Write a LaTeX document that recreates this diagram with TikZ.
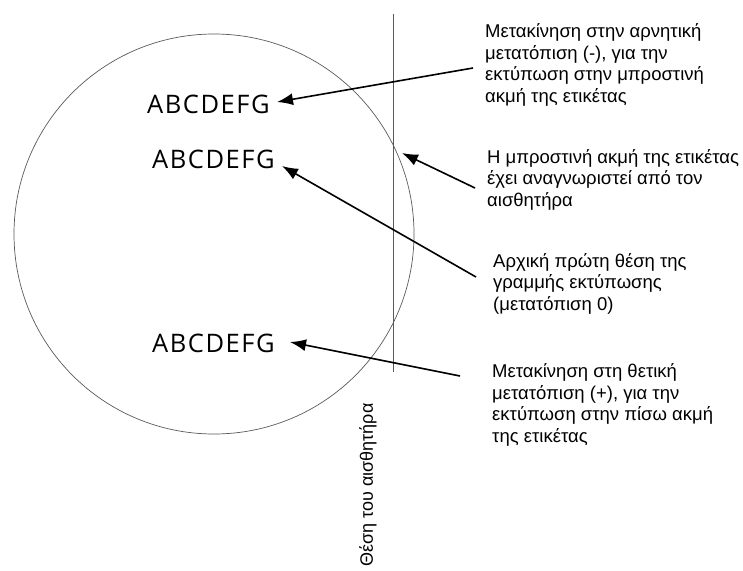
\documentclass[tikz,border=0pt]{standalone}
\usepackage{fontspec}
\setmainfont{Liberation Sans}
\newfontfamily\abcfont[LetterSpace=6]{Open Sans}
\usetikzlibrary{arrows.meta}
\begin{document}
\begin{tikzpicture}[x=1pt,y=-1pt,
  thinline/.style={draw=black!65,line width=0.7pt},
  callout/.style={draw=black,line width=1.6pt,-{Latex[length=16pt,width=12pt]}},
  abc/.style={inner sep=0pt,anchor=base west,font=\abcfont\fontsize{25.5}{30}\selectfont},
  lbl/.style={inner sep=0pt,anchor=base west,align=left,font=\fontsize{18.5}{21.5}\selectfont}]
\useasboundingbox (0,0) rectangle (743,570);
% sensor circle and line
\draw[thinline] (214,234) circle[radius=200pt];
\draw[thinline] (393,14) coordinate (vtop) -- (393,372) coordinate (vbot);
% print lines
\node[abc] (abc1) at (147,113) {ABCDEFG};
\node[abc] (abc2) at (152,168) {ABCDEFG};
\node[abc] (abc3) at (152,352) {ABCDEFG};
% labels (anchor = baseline of last line)
\node[lbl] (l1) at (485,102) {Μετακίνηση στην αρνητική\\μετατόπιση (-), για την\\εκτύπωση στην μπροστινή\\ακμή της ετικέτας};
\node[lbl] (l2) at (487,206) {Η μπροστινή ακμή της ετικέτας\\έχει αναγνωριστεί από τον\\αισθητήρα};
\node[lbl] (l3) at (493,310) {Αρχική πρώτη θέση της\\γραμμής εκτύπωσης\\(μετατόπιση 0)};
\node[lbl] (l4) at (492,442) {Μετακίνηση στη θετική\\μετατόπιση (+), για την\\εκτύπωση στην πίσω ακμή\\της ετικέτας};
\node[inner sep=0pt,rotate=90,font=\fontsize{18}{20}\selectfont] (pos) at (368,485) {Θέση του αισθητήρα};
% arrow coordinates
\coordinate (s1) at (473,68);  \coordinate (t1) at (277,102);
\coordinate (s2) at (475,188); \coordinate (t2) at (402,153);
\coordinate (s3) at (476,277); \coordinate (t3) at (282,166);
\coordinate (s4) at (460,376); \coordinate (t4) at (290,342);
\draw[callout] (s1) -- (t1);
\draw[callout] (s2) -- (t2);
\draw[callout] (s3) -- (t3);
\draw[callout] (s4) -- (t4);
\end{tikzpicture}
\end{document}
